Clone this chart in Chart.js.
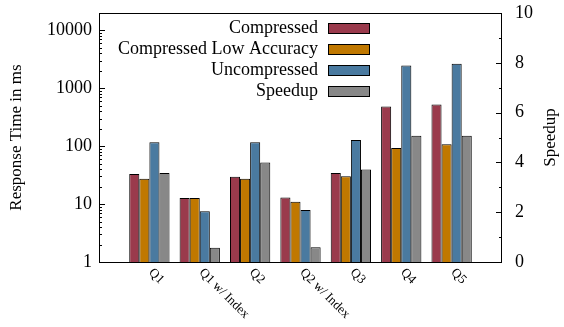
<!DOCTYPE html>
<html>
<head>
<meta charset="utf-8">
<script src="https://cdn.jsdelivr.net/npm/chart.js@4/dist/chart.umd.min.js"></script>
<style>
  html, body { margin: 0; padding: 0; background: #fff; }
  canvas { display: block; }
</style>
</head>
<body>
<canvas id="chart" width="564" height="327"></canvas>
<script>
// query labels and timings (ms)
const categories = ['Q1', 'Q1 w/ Index', 'Q2', 'Q2 w/ Index', 'Q3', 'Q4', 'Q5'];
const compressed = [33, 12.7, 29.6, 13, 34.6, 483, 524];
const compressedLowAcc = [27.3, 12.7, 27.3, 11, 30.4, 93.5, 108];
const uncompressed = [117, 7.5, 117, 7.9, 128, 2490, 2665];
const speedup = [3.57, 0.57, 4.0, 0.59, 3.71, 5.07, 5.07];
const timeTicks = [1, 10, 100, 1000, 10000];

const FONT = 'Liberation Serif';

// empty slot on each side, like the gnuplot xrange
const pad = arr => [null, ...arr, null];
const labels = ['', ...categories, ''];

const serifText = {
  id: 'serifText',
  afterDraw(chart) {
    const ctx = chart.ctx;
    const a = chart.chartArea;
    const x = chart.scales.x, y = chart.scales.y, y2 = chart.scales.y2;
    ctx.save();
    ctx.strokeStyle = '#000';
    ctx.lineWidth = 1;
    ctx.strokeRect(a.left + 0.5, a.top + 0.5, a.right - a.left - 1, a.bottom - a.top);

    // inward ticks, left log axis
    ctx.beginPath();
    for (let d = 1; d <= 10000; d *= 10) {
      for (let m = 1; m < 10; m++) {
        const v = d * m;
        if (v > y.max) break;
        const py = Math.round(y.getPixelForValue(v)) + 0.5;
        const len = m === 1 ? 6 : 3;
        ctx.moveTo(a.left, py); ctx.lineTo(a.left + len, py);
      }
    }
    // right linear axis
    for (let v = 0; v <= 10; v++) {
      const py = Math.round(y2.getPixelForValue(v)) + 0.5;
      const len = v % 2 === 0 ? 6 : 3;
      ctx.moveTo(a.right, py); ctx.lineTo(a.right - len, py);
    }
    ctx.stroke();

    // rotated category labels
    ctx.fillStyle = '#000';
    ctx.font = '13px "' + FONT + '"';
    ctx.textAlign = 'left';
    ctx.textBaseline = 'top';
    categories.forEach((c, i) => {
      const px = x.getPixelForValue(i + 1);
      ctx.save();
      ctx.translate(px + 6, 266);
      ctx.rotate(Math.PI / 4);
      ctx.fillText(c, 0, 0);
      ctx.restore();
    });

    // axis titles
    ctx.font = '17px "' + FONT + '"';
    ctx.textAlign = 'center';
    ctx.textBaseline = 'middle';
    ctx.save();
    ctx.translate(17, (a.top + a.bottom) / 2);
    ctx.rotate(-Math.PI / 2);
    ctx.fillText('Response Time in ms', 0, 0);
    ctx.restore();
    ctx.save();
    ctx.translate(551, (a.top + a.bottom) / 2);
    ctx.rotate(-Math.PI / 2);
    ctx.fillText('Speedup', 0, 0);
    ctx.restore();

    // legend, text to the left of the swatch
    ctx.font = '18px "' + FONT + '"';
    ctx.textAlign = 'right';
    chart.data.datasets.forEach((ds, i) => {
      const cy = 28 + i * 21;
      ctx.fillStyle = '#000';
      ctx.fillText(ds.label, 318, cy);
      ctx.fillStyle = ds.backgroundColor;
      ctx.fillRect(328, cy - 5, 42, 10);
      ctx.strokeRect(328.5, cy - 4.5, 41, 10);
    });
    ctx.restore();
  }
};

new Chart(document.getElementById('chart').getContext('2d'), {
  type: 'bar',
  data: {
    labels: labels,
    datasets: [
      { label: 'Compressed', data: pad(compressed), backgroundColor: '#9A3A4C', yAxisID: 'y' },
      { label: 'Compressed Low Accuracy', data: pad(compressedLowAcc), backgroundColor: '#C07800', yAxisID: 'y' },
      { label: 'Uncompressed', data: pad(uncompressed), backgroundColor: '#4A7AA0', yAxisID: 'y' },
      { label: 'Speedup', data: pad(speedup), backgroundColor: '#888888', yAxisID: 'y2' }
    ]
  },
  options: {
    responsive: false,
    animation: false,
    datasets: {
      bar: { borderColor: '#000', borderWidth: 1, categoryPercentage: 0.8, barPercentage: 1.0 }
    },
    layout: { padding: { top: 13 } },
    plugins: { legend: { display: false }, tooltip: { enabled: false } },
    scales: {
      x: {
        offset: false,
        grid: { display: false },
        border: { display: false },
        ticks: { display: false },
        afterFit: s => { s.height = 65; s.paddingLeft = 0; s.paddingRight = 0; }
      },
      y: {
        type: 'logarithmic',
        position: 'left',
        min: 1,
        max: 20000,
        grid: { display: false, drawTicks: false },
        border: { display: false },
        afterBuildTicks: s => { s.ticks = timeTicks.map(v => ({ value: v })); },
        ticks: {
          color: '#000',
          padding: 7,
          font: { family: FONT, size: 18 },
          callback: v => String(v)
        },
        afterFit: s => { s.width = 99; s.paddingTop = 0; s.paddingBottom = 0; }
      },
      y2: {
        type: 'linear',
        position: 'right',
        min: 0,
        max: 10,
        grid: { display: false, drawTicks: false },
        border: { display: false },
        ticks: {
          stepSize: 2,
          color: '#000',
          padding: 13,
          font: { family: FONT, size: 18 }
        },
        afterFit: s => { s.width = 62; s.paddingTop = 0; s.paddingBottom = 0; }
      }
    }
  },
  plugins: [serifText]
});
</script>
</body>
</html>
